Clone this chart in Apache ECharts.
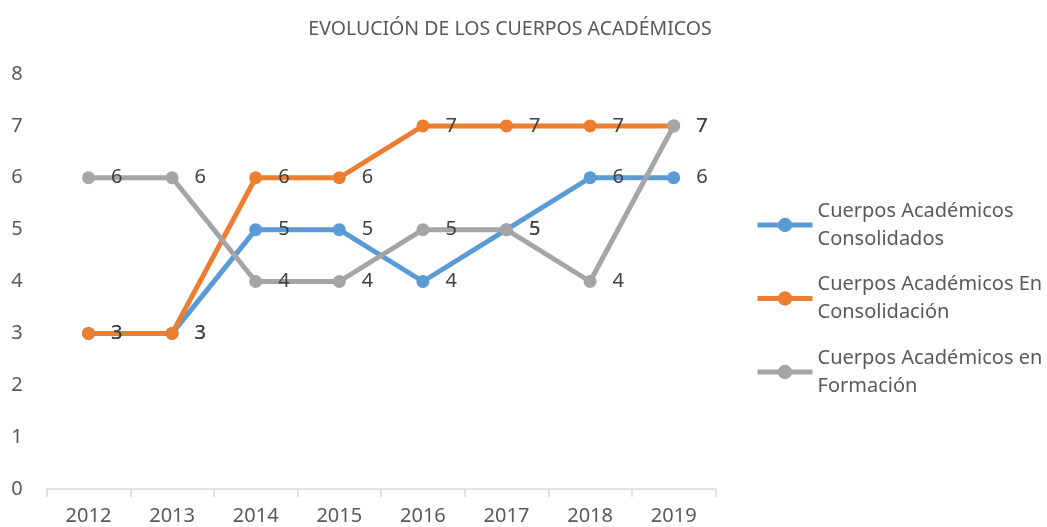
<!DOCTYPE html>
<html>
<head>
<meta charset="utf-8">
<script src="https://cdn.jsdelivr.net/npm/echarts@6/dist/echarts.min.js"></script>
<style>html,body{margin:0;padding:0;background:#fff}#c{width:1047px;height:527px}</style>
</head>
<body>
<div id="c"></div>
<script>
const categories = ['2012','2013','2014','2015','2016','2017','2018','2019'];
const consolidados = [3,3,5,5,4,5,6,6];
const enConsolidacion = [3,3,6,6,7,7,7,7];
const enFormacion = [6,6,4,4,5,5,4,7];
const seriesNames = ['Cuerpos Académicos Consolidados','Cuerpos Académicos En Consolidación','Cuerpos Académicos en Formación'];
const legendLines = {
  'Cuerpos Académicos Consolidados': 'Cuerpos Académicos\nConsolidados',
  'Cuerpos Académicos En Consolidación': 'Cuerpos Académicos En\nConsolidación',
  'Cuerpos Académicos en Formación': 'Cuerpos Académicos en\nFormación'
};
const colors = ['#5B9BD5','#ED7D31','#A5A5A5'];
const font = 'Noto Sans';

function mk(name, data, color){
  return {
    name, type:'line', data,
    symbol:'circle', symbolSize:13,
    lineStyle:{width:5, color},
    itemStyle:{color},
    label:{show:true, position:'right', distance:16, color:'#404040', fontSize:20, fontFamily:font},
    emphasis:{disabled:true}
  };
}

const chart = echarts.init(document.getElementById('c'));
chart.setOption({
  animation:false,
  color: colors,
  title:{
    text:'EVOLUCIÓN DE LOS CUERPOS ACADÉMICOS',
    left:505, textAlign:'center', top:14,
    textStyle:{fontFamily:font, fontSize:19.5, fontWeight:'normal', color:'#595959'}
  },
  grid:{left:46.7, right:331.5, top:74, bottom:38, containLabel:false},
  legend:{
    orient:'vertical', left:750, top:178,
    itemWidth:55, itemHeight:18, itemGap:-10.5,
    lineStyle:{width:5},
    formatter: n => legendLines[n],
    textStyle:{fontFamily:font, fontSize:20, color:'#595959', lineHeight:28, padding:[28,0,0,0]},
    data: seriesNames
  },
  xAxis:{
    type:'category', data:categories, boundaryGap:true,
    axisLine:{lineStyle:{color:'#D9D9D9', width:1.5}},
    axisTick:{show:true, length:8, lineStyle:{color:'#D9D9D9', width:1.5}},
    axisLabel:{fontFamily:font, fontSize:20, color:'#595959', margin:17}
  },
  yAxis:{
    type:'value', min:0, max:8, interval:1,
    axisLine:{show:false}, axisTick:{show:false},
    splitLine:{show:false},
    axisLabel:{fontFamily:font, fontSize:20, color:'#595959', margin:24}
  },
  series:[
    mk(seriesNames[0], consolidados, colors[0]),
    mk(seriesNames[1], enConsolidacion, colors[1]),
    mk(seriesNames[2], enFormacion, colors[2])
  ]
});
</script>
</body>
</html>
